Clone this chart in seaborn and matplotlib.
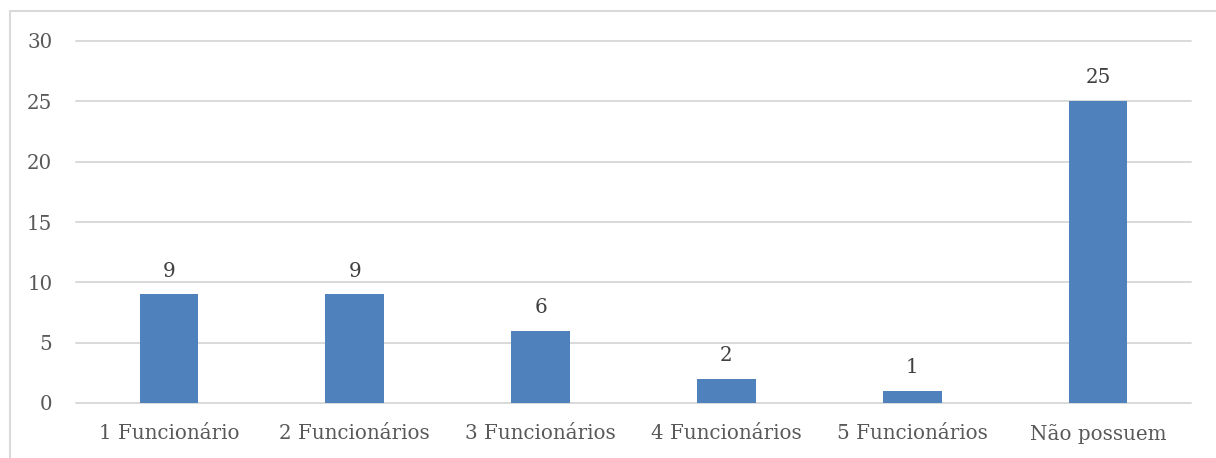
import matplotlib
matplotlib.use("Agg")
import matplotlib.pyplot as plt
from matplotlib.patches import Rectangle
import seaborn as sns
import pandas as pd

categories = ["1 Funcionário", "2 Funcionários", "3 Funcionários",
              "4 Funcionários", "5 Funcionários", "Não possuem"]
counts = [9, 9, 6, 2, 1, 25]
y_ticks = [0, 5, 10, 15, 20, 25, 30]

sns.set_theme(style="white")
plt.rcParams["font.family"] = ["DejaVu Serif"]

W, H = 1216, 458
fig = plt.figure(figsize=(W / 100, H / 100), dpi=100)
ax = fig.add_axes([76 / W, 1 - 403 / H, (1191 - 76) / W, (403 - 41) / H])

df = pd.DataFrame({"cat": categories, "n": counts})
sns.barplot(data=df, x="cat", y="n", color="#4F81BD", saturation=1,
            width=0.315, ax=ax, zorder=3, linewidth=0)

text_color = "#595959"
ax.set_ylim(0, 30)
ax.set_yticks(y_ticks)
ax.set_xlim(-0.5, len(categories) - 0.5)
ax.yaxis.grid(True, color="#D9D9D9", linewidth=1.4, zorder=0)
for gl in ax.get_ygridlines():
    gl.set_clip_on(False)
ax.set_axisbelow(True)
for s in ax.spines.values():
    s.set_visible(False)
ax.set_xlabel("")
ax.set_ylabel("")
ax.tick_params(axis="both", length=0, labelsize=14.3, colors=text_color)
ax.tick_params(axis="y", pad=17)
ax.tick_params(axis="x", pad=15)

for c in ax.containers:
    ax.bar_label(c, labels=[str(v) for v in counts], padding=10,
                 fontsize=14.3, color="#404040")

# outer chart frame
fig.patches.append(Rectangle((10 / W, -0.1), 1.2, 1.1 - 11 / H,
                             transform=fig.transFigure, fill=False,
                             edgecolor="#D9D9D9", linewidth=1.5))

fig.savefig("out.png", dpi=100, facecolor="white")
